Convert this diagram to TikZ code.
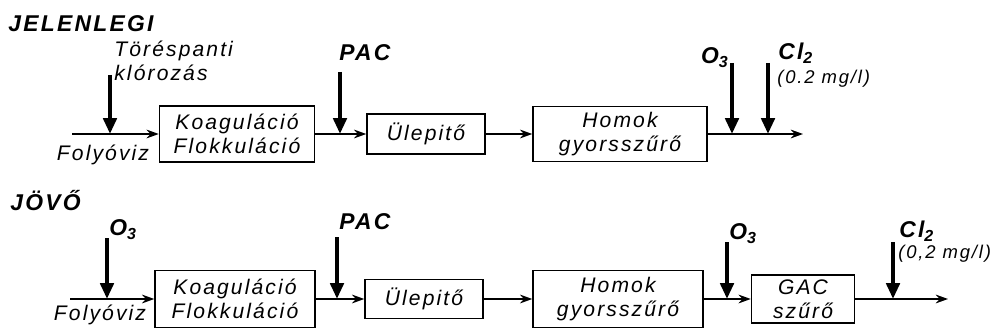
\documentclass[tikz,border=0pt]{standalone}
\usepackage{fontspec}
\newfontfamily\lettering[LetterSpace=10]{Liberation Sans}
\newcommand\felirat{\lettering\itshape\fontsize{12}{13.5}\selectfont}
\newcommand\kisfelirat{\lettering\itshape\fontsize{10.5}{12}\selectfont}
\newcommand\cimkefont{\lettering\itshape\bfseries\fontsize{13}{15}\selectfont}
\usetikzlibrary{arrows.meta,positioning}
\tikzset{
  bloc/.style={draw, line width=0.85pt, align=center, inner sep=1pt, font=\felirat},
  szoveg/.style={inner sep=0pt, font=\felirat},
  kisszoveg/.style={inner sep=0pt, font=\kisfelirat},
  cimke/.style={inner sep=0pt, font=\cimkefont},
  flux/.style={line width=1pt, -{Stealth[length=7pt,width=5pt]}},
  adag/.style={line width=2.6pt, -{Triangle[length=9pt,width=7.5pt]}}
}
\begin{document}
\begin{tikzpicture}[x=0.02cm, y=-0.02cm]
    \useasboundingbox (0,0) rectangle (1000,334);

    % Jelenlegi
    \node[cimke, anchor=west] (jel) at (8,24) {JELENLEGI};
    \node[bloc, minimum width=3.1cm, minimum height=1.12cm] (koag1) at (237,134) {Koaguláció\\Flokkuláció};
    \node[bloc, minimum width=2.36cm, minimum height=0.8cm] (ulep1) at (426,134) {Ülepitő};
    \node[bloc, minimum width=3.48cm, minimum height=1.1cm] (homok1) at (620,134) {Homok\\gyorsszűrő};

    \coordinate (be1) at (72,134);
    \coordinate (ki1) at (803,134);
    \coordinate (jt1) at (110,134);
    \coordinate (jp1) at (340,134);
    \coordinate (jo1) at (732,134);
    \coordinate (jc1) at (768,134);
    \coordinate (dt1) at (110,75);
    \coordinate (dp1) at (340,72);
    \coordinate (do1) at (732,63);
    \coordinate (dc1) at (768,63);

    \draw[flux] (be1) -- (koag1);
    \draw[flux] (koag1) -- (ulep1);
    \draw[flux] (ulep1) -- (homok1);
    \draw[flux] (homok1) -- (ki1);

    \node[szoveg, anchor=north west, align=left] (toresp) at (114,41) {Töréspanti\\klórozás};
    \node[szoveg] (foly1) at (103,155) {Folyóviz};
    \node[cimke, anchor=south west] (pac1) at (339,61) {PAC};
    \node[cimke, anchor=south east] (o31) at (729,68) {O\textsubscript{3}};
    \node[cimke, anchor=south west] (cl1) at (778,64) {Cl\textsubscript{2}};
    \node[kisszoveg, anchor=west] (mg1) at (777,79) {(0.2 mg/l)};

    % Jovo
    \node[cimke, anchor=west] (jovo) at (10,201) {JÖVŐ};
    \node[bloc, minimum width=3.2cm, minimum height=1.14cm] (koag2) at (235,299) {Koaguláció\\Flokkuláció};
    \node[bloc, minimum width=2.36cm, minimum height=0.78cm] (ulep2) at (424,299) {Ülepitő};
    \node[bloc, minimum width=3.4cm, minimum height=1.14cm] (homok2) at (618,299) {Homok\\gyorsszűrő};
    \node[bloc, minimum width=2.06cm, minimum height=0.96cm] (gac2) at (803,299) {GAC\\szűrő};

    \coordinate (be2) at (70,299);
    \coordinate (ki2) at (948,299);
    \coordinate (jo2a) at (107,299);
    \coordinate (jp2) at (337,299);
    \coordinate (jo2b) at (727,299);
    \coordinate (jc2) at (893,299);
    \coordinate (do2a) at (107,238);
    \coordinate (dp2) at (337,237);
    \coordinate (do2b) at (727,242);
    \coordinate (dc2) at (893,242);

    \draw[flux] (be2) -- (koag2);
    \draw[flux] (koag2) -- (ulep2);
    \draw[flux] (ulep2) -- (homok2);
    \draw[flux] (homok2) -- (gac2);
    \draw[flux] (gac2) -- (ki2);

    \node[szoveg] (foly2) at (100,315) {Folyóviz};
    \node[cimke, anchor=south west] (o32) at (109,240) {O\textsubscript{3}};
    \node[cimke, anchor=south west] (pac2) at (339,230) {PAC};
    \node[cimke, anchor=south west] (o33) at (729,244) {O\textsubscript{3}};
    \node[cimke, anchor=south west] (cl2) at (899,242) {Cl\textsubscript{2}};
    \node[kisszoveg, anchor=west] (mg2) at (898,254) {(0,2 mg/l)};

    % Adagolas
    \foreach \d/\j in {dt1/jt1, dp1/jp1, do1/jo1, dc1/jc1, do2a/jo2a, dp2/jp2, do2b/jo2b, dc2/jc2}
        \draw[adag] (\d) -- (\j);

\end{tikzpicture}
\end{document}
